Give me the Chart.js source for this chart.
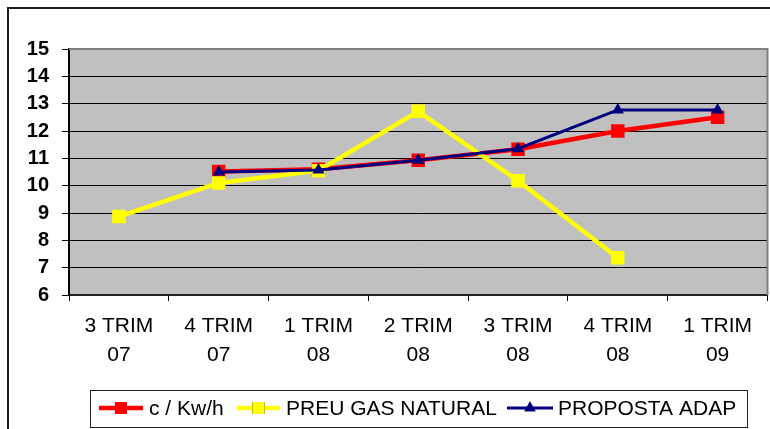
<!DOCTYPE html>
<html>
<head>
<meta charset="utf-8">
<script src="https://cdn.jsdelivr.net/npm/chart.js@4/dist/chart.umd.min.js"></script>
<style>
  html, body { margin: 0; padding: 0; background: #fff; overflow: hidden; }
  #wrap { position: relative; width: 770px; height: 429px; overflow: hidden; }
</style>
</head>
<body>
<div id="wrap"><canvas id="c" width="777" height="429" style="width:777px;height:429px"></canvas></div>
<script>
const categories = [['3 TRIM', '07'], ['4 TRIM', '07'], ['1 TRIM', '08'], ['2 TRIM', '08'], ['3 TRIM', '08'], ['4 TRIM', '08'], ['1 TRIM', '09']];
const seriesNames = ['c / Kw/h', 'PREU GAS NATURAL', 'PROPOSTA ADAP'];
const kwhValues = [null, 10.52, 10.6, 10.93, 11.33, 12.0, 12.5];
const gasValues = [8.87, 10.1, 10.55, 12.72, 10.18, 7.36, null];
const propostaValues = [null, 10.5, 10.57, 10.93, 11.35, 12.77, 12.77];
const yMin = 6, yMax = 15, yStep = 1;

const FONT = '"Liberation Sans", Arial, sans-serif';

const bgPlugin = {
  id: 'bg',
  beforeDraw(chart) {
    const { ctx, chartArea: a } = chart;
    ctx.save();
    ctx.strokeStyle = '#1a1a1a';
    ctx.lineWidth = 2;
    ctx.beginPath();
    ctx.moveTo(8, 440); ctx.lineTo(8, 8); ctx.lineTo(790, 8);
    ctx.stroke();
    ctx.fillStyle = '#C0C0C0';
    ctx.fillRect(a.left, a.top, a.right - a.left, a.bottom - a.top);
    ctx.restore();
  },
  beforeDatasetsDraw(chart) {
    const { ctx, chartArea: a } = chart;
    ctx.save();
    ctx.strokeStyle = '#808080';
    ctx.lineWidth = 2;
    ctx.beginPath();
    ctx.moveTo(a.left, a.top); ctx.lineTo(a.right, a.top); ctx.lineTo(a.right, a.bottom);
    ctx.stroke();
    ctx.restore();
  },
  afterDraw(chart) {
    const { ctx } = chart;
    ctx.save();
    ctx.strokeStyle = '#222';
    ctx.lineWidth = 1;
    ctx.strokeRect(90.5, 390.5, 657, 37);
    const cy = 408;
    const items = [
      { x0: 99, x1: 143, text: seriesNames[0], tx: 149, color: '#FF0000', lw: 4.5, style: 'rect', r: 8.5 },
      { x0: 237, x1: 280, text: seriesNames[1], tx: 286, color: '#FFFF00', lw: 4.5, style: 'rect', r: 8.5 },
      { x0: 507, x1: 553, text: seriesNames[2], tx: 558, color: '#000080', lw: 3, style: 'triangle', r: 6.5 }
    ];
    ctx.font = '21px ' + FONT;
    ctx.textBaseline = 'middle';
    ctx.textAlign = 'left';
    items.forEach(it => {
      ctx.strokeStyle = it.color;
      ctx.lineWidth = it.lw;
      ctx.beginPath();
      ctx.moveTo(it.x0, cy); ctx.lineTo(it.x1, cy);
      ctx.stroke();
      Chart.helpers.drawPoint(ctx, { pointStyle: it.style, radius: it.r, borderWidth: 0, rotation: 0 }, (it.x0 + it.x1) / 2, cy);
      ctx.fillStyle = it.color;
      ctx.fill();
      ctx.fillStyle = '#000';
      ctx.fillText(it.text, it.tx, cy + 1);
    });
    ctx.restore();
  }
};

new Chart(document.getElementById('c'), {
  type: 'line',
  data: {
    labels: categories,
    datasets: [
      {
        label: seriesNames[0], data: kwhValues, order: 2,
        borderColor: '#FF0000', backgroundColor: '#FF0000', borderWidth: 4.5,
        pointStyle: 'rect', pointRadius: 9.5, pointHoverRadius: 9.5, pointBorderWidth: 0,
        tension: 0, spanGaps: false
      },
      {
        label: seriesNames[1], data: gasValues, order: 1,
        borderColor: '#FFFF00', backgroundColor: '#FFFF00', borderWidth: 4.5,
        pointStyle: 'rect', pointRadius: 9.5, pointHoverRadius: 9.5, pointBorderWidth: 0,
        tension: 0
      },
      {
        label: seriesNames[2], data: propostaValues, order: 0,
        borderColor: '#000080', backgroundColor: '#000080', borderWidth: 3,
        pointStyle: 'triangle', pointRadius: 7, pointHoverRadius: 7, pointBorderWidth: 0,
        tension: 0
      }
    ]
  },
  options: {
    responsive: false,
    animation: false,
    events: [],
    layout: { padding: { top: 49, right: 2, left: 0, bottom: 0 } },
    plugins: { legend: { display: false }, tooltip: { enabled: false } },
    scales: {
      x: {
        offset: true,
        afterFit(s) { s.height = 134; s.paddingRight = 0; s.paddingLeft = 0; },
        grid: { drawOnChartArea: false, offset: true, tickLength: 6, color: '#000', lineWidth: 1 },
        border: { color: '#222', width: 2 },
        ticks: { color: '#000', font: { family: FONT, size: 21, lineHeight: 1.38 }, padding: 11, maxRotation: 0, autoSkip: false }
      },
      y: {
        min: yMin, max: yMax,
        afterFit(s) { s.width = 69; },
        grid: { color: '#000', lineWidth: 1, tickLength: 7 },
        border: { color: '#000', width: 2 },
        ticks: { stepSize: yStep, color: '#000', font: { family: FONT, size: 20, weight: 'bold' }, padding: 13 }
      }
    }
  },
  plugins: [bgPlugin]
});
</script>
</body>
</html>
